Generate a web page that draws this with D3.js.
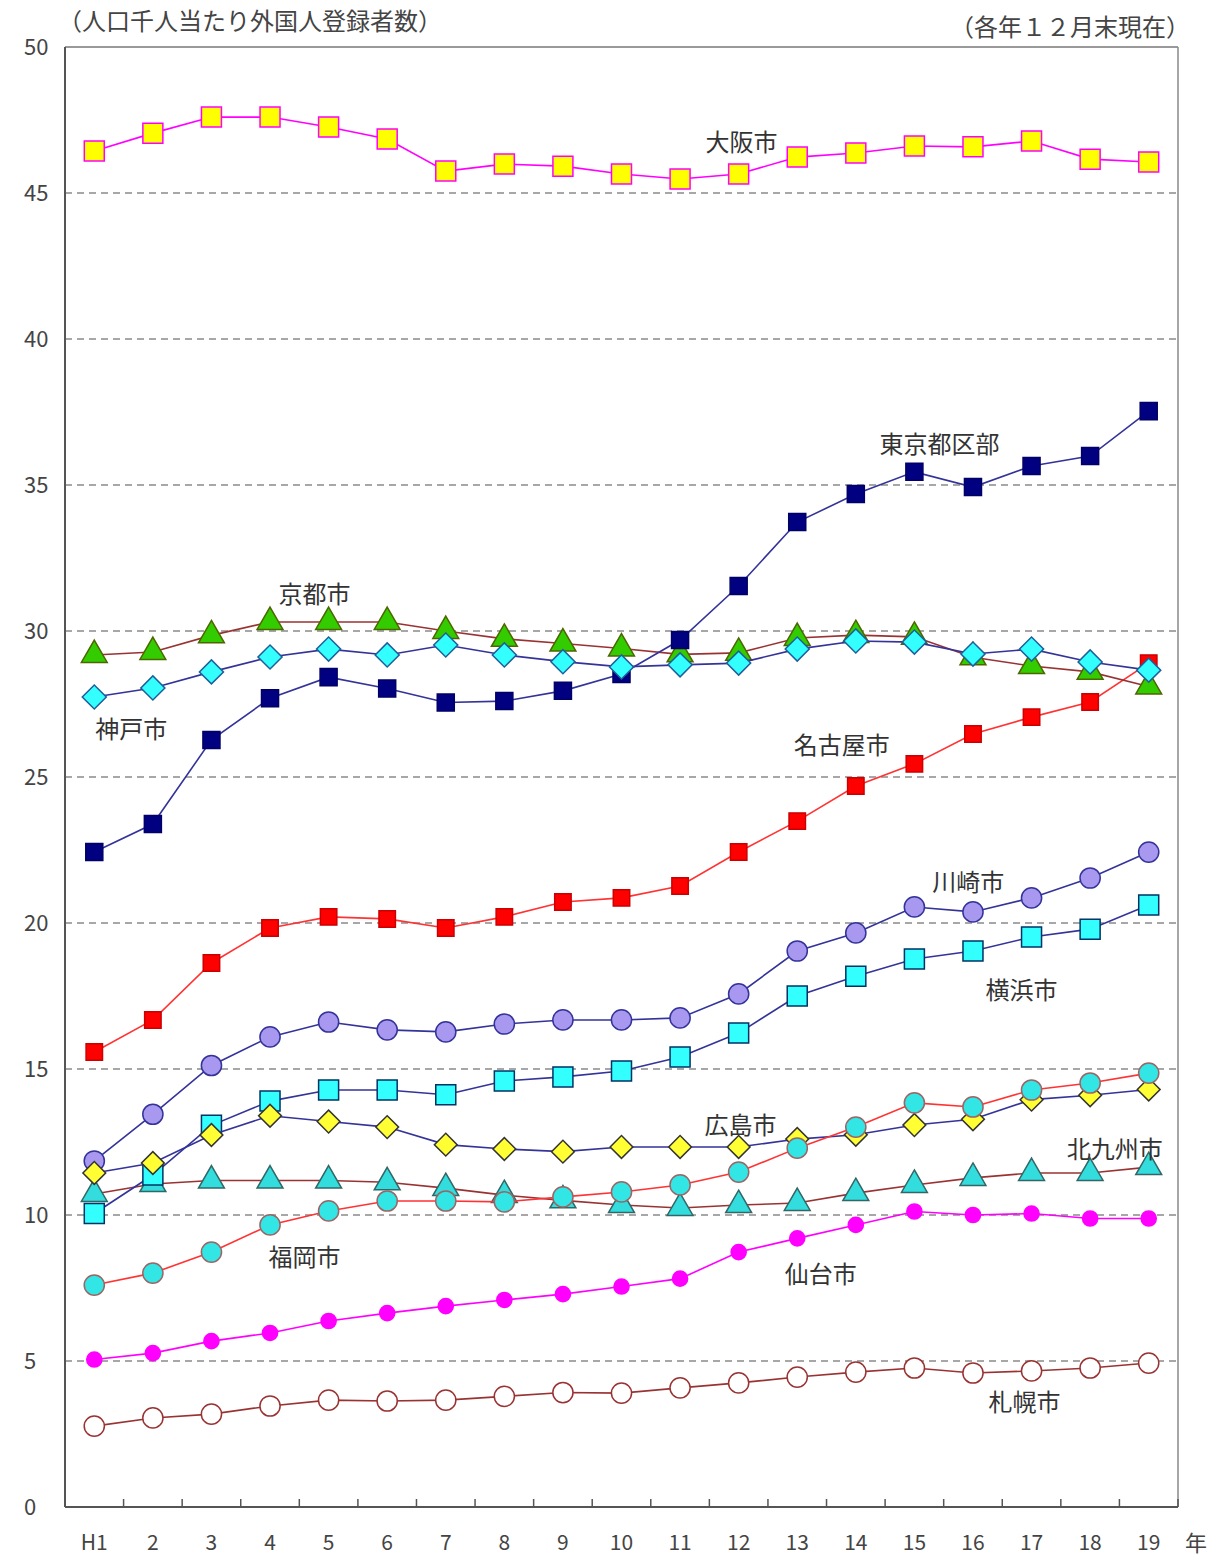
<html>
<head>
<meta charset="utf-8">
<title>人口千人当たり外国人登録者数</title>
<style>
  body { margin: 0; background: #ffffff; }
  svg { display: block; font-family: "Noto Sans CJK JP", "Noto Sans", sans-serif; }
</style>
</head>
<body>
<div id="chart"></div>
<script src="https://cdnjs.cloudflare.com/ajax/libs/d3/7.8.5/d3.min.js"></script>
<script>
// years (平成)
const years = ["H1","2","3","4","5","6","7","8","9","10","11","12","13","14","15","16","17","18","19"];
const yTicks = [0, 5, 10, 15, 20, 25, 30, 35, 40, 45, 50];

// values
const osaka      = [46.44, 47.05, 47.6, 47.6, 47.26, 46.85, 45.75, 45.99, 45.92, 45.65, 45.48, 45.65, 46.23, 46.37, 46.61, 46.58, 46.78, 46.16, 46.06];
const tokyo      = [22.43, 23.39, 26.27, 27.7, 28.42, 28.03, 27.55, 27.6, 27.95, 28.53, 29.69, 31.54, 33.73, 34.69, 35.45, 34.93, 35.65, 35.99, 37.53];
const kyoto      = [29.18, 29.28, 29.85, 30.31, 30.31, 30.31, 30.0, 29.73, 29.57, 29.4, 29.2, 29.25, 29.76, 29.86, 29.8, 29.1, 28.8, 28.6, 28.1];
const kobe       = [27.74, 28.05, 28.6, 29.11, 29.38, 29.18, 29.52, 29.18, 28.95, 28.77, 28.84, 28.9, 29.38, 29.66, 29.62, 29.21, 29.38, 28.94, 28.66];
const nagoya     = [15.58, 16.68, 18.63, 19.83, 20.21, 20.14, 19.83, 20.21, 20.72, 20.86, 21.27, 22.43, 23.49, 24.69, 25.45, 26.47, 27.05, 27.57, 28.9];
const kawasaki   = [11.85, 13.45, 15.12, 16.1, 16.61, 16.34, 16.27, 16.54, 16.68, 16.68, 16.75, 17.57, 19.04, 19.66, 20.55, 20.38, 20.86, 21.54, 22.43];
const yokohama   = [10.05, 11.37, 13.07, 13.9, 14.28, 14.28, 14.12, 14.59, 14.73, 14.93, 15.41, 16.23, 17.5, 18.18, 18.77, 19.04, 19.52, 19.79, 20.62];
const hiroshima  = [11.44, 11.78, 12.74, 13.4, 13.2, 13.01, 12.41, 12.26, 12.17, 12.33, 12.33, 12.33, 12.6, 12.75, 13.08, 13.28, 13.95, 14.1, 14.3];
const kitakyushu = [10.72, 11.06, 11.18, 11.18, 11.18, 11.12, 10.92, 10.68, 10.5, 10.34, 10.24, 10.34, 10.41, 10.75, 11.03, 11.27, 11.44, 11.44, 11.64];
const fukuoka    = [7.6, 8.01, 8.73, 9.66, 10.14, 10.48, 10.48, 10.45, 10.62, 10.79, 11.03, 11.47, 12.29, 13.01, 13.84, 13.7, 14.28, 14.52, 14.86];
const sendai     = [5.05, 5.27, 5.68, 5.96, 6.37, 6.64, 6.88, 7.09, 7.29, 7.55, 7.82, 8.73, 9.2, 9.66, 10.12, 10.0, 10.05, 9.88, 9.88];
const sapporo    = [2.77, 3.05, 3.18, 3.46, 3.66, 3.63, 3.66, 3.79, 3.92, 3.9, 4.08, 4.25, 4.45, 4.62, 4.76, 4.59, 4.66, 4.76, 4.93];

(function () {

  // layout
  const W = 1220, H = 1559;
  const pLeft = 65, pRight = 1178, pTop = 47, pBottom = 1507;

  const x = d3.scaleBand().domain(years).range([pLeft, pRight]);
  const xc = d => x(d) + x.bandwidth() / 2;
  // fractional year index, for placing the city names
  const xi = d3.scaleLinear().domain([0, years.length - 1]).range([xc(years[0]), xc(years[years.length - 1])]);
  const y = d3.scaleLinear().domain([0, 50]).range([pBottom, pTop]);

  const sq = d3.symbol().type(d3.symbolSquare);
  const tri = d3.symbol().type(d3.symbolTriangle);
  const circ = d3.symbol().type(d3.symbolCircle);

  // drawing order: first is lowest
  const series = [
    { name: "札幌市",   values: sapporo,    line: "#993333", fill: "#ffffff", stroke: "#993333", shape: circ, size: 320, rot: 0,  lab: [15.88, 3.56] },
    { name: "仙台市",   values: sendai,     line: "#ff00ff", fill: "#ff00ff", stroke: "#ff00ff", shape: circ, size: 180, rot: 0,  lab: [12.4, 7.95] },
    { name: "北九州市", values: kitakyushu, line: "#993333", fill: "#33dddd", stroke: "#336666", shape: tri,  size: 290, rot: 0,  lab: [17.42, 12.23] },
    { name: "川崎市",   values: kawasaki,   line: "#333399", fill: "#a998f0", stroke: "#333399", shape: circ, size: 320, rot: 0,  lab: [14.92, 21.4] },
    { name: "横浜市",   values: yokohama,   line: "#333399", fill: "#33ffff", stroke: "#003366", shape: sq,   size: 400, rot: 0,  lab: [15.83, 17.7] },
    { name: "広島市",   values: hiroshima,  line: "#333399", fill: "#ffff33", stroke: "#333333", shape: sq,   size: 260, rot: 45, lab: [11.03, 13.05] },
    { name: "福岡市",   values: fukuoka,    line: "#ff3333", fill: "#33e6e6", stroke: "#996666", shape: circ, size: 320, rot: 0,  lab: [3.59, 8.53] },
    { name: "名古屋市", values: nagoya,     line: "#ff3333", fill: "#ff0000", stroke: "#cc0000", shape: sq,   size: 270, rot: 0,  lab: [12.76, 26.06] },
    { name: "京都市",   values: kyoto,      line: "#993333", fill: "#33cc00", stroke: "#4d6600", shape: tri,  size: 290, rot: 0,  lab: [3.76, 31.23] },
    { name: "東京都区部", values: tokyo,    line: "#333399", fill: "#000080", stroke: "#000066", shape: sq,   size: 290, rot: 0,  lab: [14.43, 36.4] },
    { name: "神戸市",   values: kobe,       line: "#333399", fill: "#33ffff", stroke: "#1f5f99", shape: sq,   size: 290, rot: 45, lab: [0.63, 26.61] },
    { name: "大阪市",   values: osaka,      line: "#ff00ff", fill: "#ffff00", stroke: "#ff00ff", shape: sq,   size: 400, rot: 0,  lab: [11.05, 46.71] }
  ];

  const svg = d3.select("#chart").append("svg")
    .attr("width", W)
    .attr("height", H);

  // dashed grid
  svg.append("g")
    .selectAll("line")
    .data(yTicks.filter(t => t > 0 && t < 50))
    .join("line")
    .attr("x1", pLeft).attr("x2", pRight)
    .attr("y1", d => y(d)).attr("y2", d => y(d))
    .attr("stroke", "#8a8a8a")
    .attr("stroke-width", 1.5)
    .attr("stroke-dasharray", "7,5");

  // frame
  svg.append("line").attr("x1", pLeft).attr("x2", pRight).attr("y1", pTop).attr("y2", pTop)
    .attr("stroke", "#777").attr("stroke-width", 1.5);
  svg.append("line").attr("x1", pRight).attr("x2", pRight).attr("y1", pTop).attr("y2", pBottom)
    .attr("stroke", "#888").attr("stroke-width", 1.5);
  svg.append("line").attr("x1", pLeft).attr("x2", pLeft).attr("y1", pTop).attr("y2", pBottom)
    .attr("stroke", "#555").attr("stroke-width", 2);
  svg.append("line").attr("x1", pLeft).attr("x2", pRight).attr("y1", pBottom).attr("y2", pBottom)
    .attr("stroke", "#555").attr("stroke-width", 2);

  // x ticks between the years
  svg.append("g")
    .selectAll("line")
    .data(years)
    .join("line")
    .attr("x1", d => x(d) + x.bandwidth()).attr("x2", d => x(d) + x.bandwidth())
    .attr("y1", pBottom).attr("y2", pBottom - 8)
    .attr("stroke", "#555").attr("stroke-width", 1.5);

  // y labels
  svg.append("g")
    .selectAll("text")
    .data(yTicks)
    .join("text")
    .attr("x", 24)
    .attr("y", d => y(d))
    .attr("dy", "0.35em")
    .attr("font-size", 22)
    .attr("fill", "#444")
    .text(d => d);

  // x labels
  svg.append("g")
    .selectAll("text")
    .data(years)
    .join("text")
    .attr("x", d => xc(d))
    .attr("y", 1543)
    .attr("dy", "0.35em")
    .attr("text-anchor", "middle")
    .attr("font-size", 21)
    .attr("fill", "#444")
    .text(d => d);

  svg.append("text")
    .attr("x", 1196).attr("y", 1543).attr("dy", "0.35em")
    .attr("text-anchor", "middle")
    .attr("font-size", 22).attr("fill", "#444")
    .text("年");

  // titles
  svg.append("text")
    .attr("x", 58).attr("y", 22).attr("dy", "0.35em")
    .attr("font-size", 24).attr("fill", "#444")
    .text("（人口千人当たり外国人登録者数）");

  svg.append("text")
    .attr("x", 1190).attr("y", 28).attr("dy", "0.35em")
    .attr("text-anchor", "end")
    .attr("font-size", 24).attr("fill", "#444")
    .text("（各年１２月末現在）");

  // lines and markers
  const line = d3.line()
    .x((d, i) => xc(years[i]))
    .y(d => y(d));

  series.forEach(s => {
    const g = svg.append("g");
    g.append("path")
      .attr("d", line(s.values))
      .attr("fill", "none")
      .attr("stroke", s.line)
      .attr("stroke-width", 1.6);

    g.selectAll("path.mark")
      .data(s.values)
      .join("path")
      .attr("class", "mark")
      .attr("d", s.shape.size(s.size)())
      .attr("transform", (d, i) => `translate(${xc(years[i])},${y(d)}) rotate(${s.rot})`)
      .attr("fill", s.fill)
      .attr("stroke", s.stroke)
      .attr("stroke-width", 1.5);
  });

  // city names
  svg.append("g")
    .selectAll("text")
    .data(series)
    .join("text")
    .attr("x", d => xi(d.lab[0]))
    .attr("y", d => y(d.lab[1]))
    .attr("dy", "0.35em")
    .attr("text-anchor", "middle")
    .attr("font-size", 24)
    .attr("fill", "#333")
    .text(d => d.name);

})();
</script>
</body>
</html>
